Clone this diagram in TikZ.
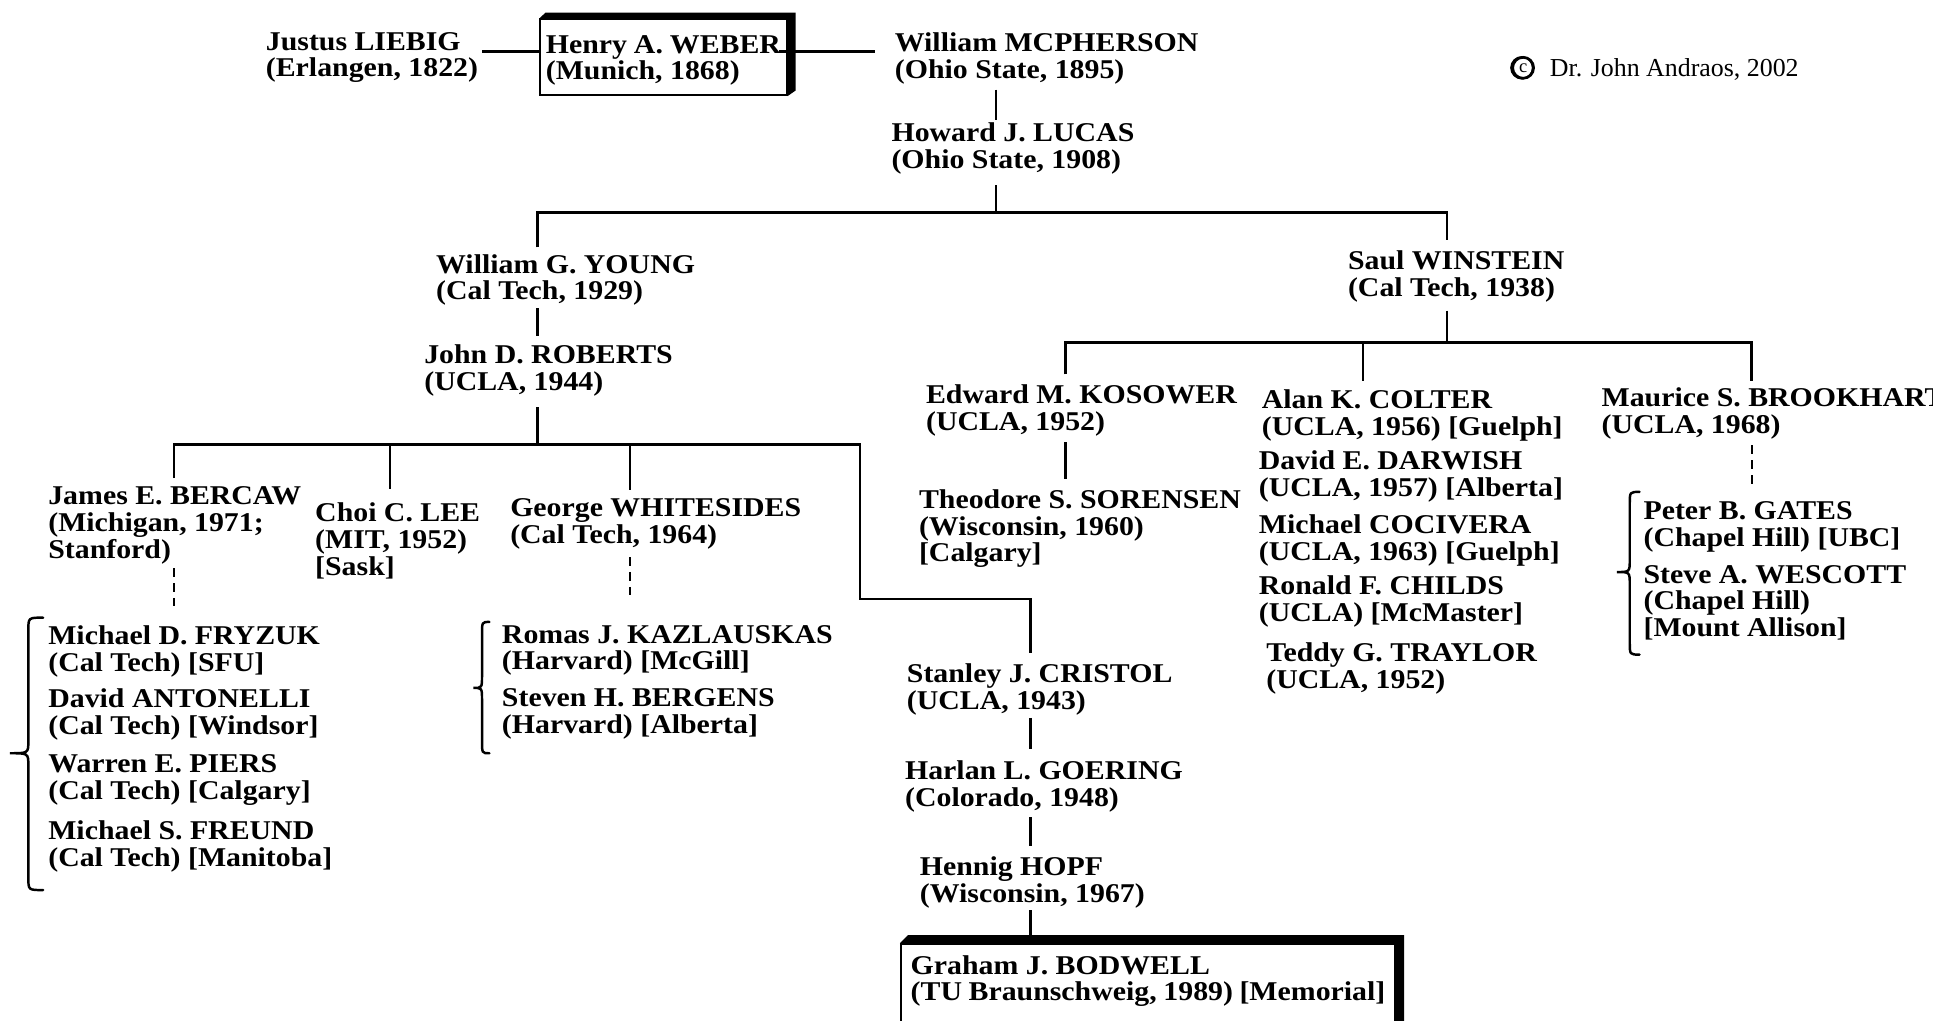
\documentclass[tikz,border=0pt]{standalone}
\usepackage{fontspec}
\setmainfont{Liberation Serif}[FakeStretch=1.1]
\newfontfamily\plainserif{Liberation Serif}
\newcommand\ppl[1]{\begin{tabular}[t]{@{}l@{}}#1\end{tabular}}
\newcommand\pplw[2]{\begin{tabular}[t]{@{}p{#1}@{}}#2\end{tabular}}
\newcommand\gbr[6]{\draw[gbrace] (#1,#4) .. controls (#2,#4) .. (#2,#4+10) -- (#2,#5-10) .. controls (#2,#5) .. (#3,#5) .. controls (#2,#5) .. (#2,#5+10) -- (#2,#6-10) .. controls (#2,#6) .. (#1,#6);}
\begin{document}
\begin{tikzpicture}[x=1pt,y=-1pt,
  person/.style={anchor=base west, inner sep=0pt, font=\bfseries\fontsize{22}{21.5}\selectfont},
  frame/.style={draw, line width=1.5pt, inner ysep=0pt, anchor=north west, font=\bfseries\fontsize{22}{21.5}\selectfont},
  link/.style={line width=2pt},
  dlink/.style={line width=2pt, dash pattern=on 7pt off 5pt},
  gbrace/.style={line width=2pt, line cap=round}]
\useasboundingbox (0,0) rectangle (1568,828);
\clip (0,0) rectangle (1568,828);
\fill[white] (0,0) rectangle (1568,828);

% ---- top row
\node[person] (liebig) at (215.5,41) {{\def\arraystretch{0.92}\ppl{Justus LIEBIG\\(Erlangen, 1822)}}};
\node[frame, inner xsep=4.5pt, text height=27.4pt, text depth=34.2pt] (weber) at (437.5,14.9)
  {{\def\arraystretch{0.92}\pplw{190.8pt}{Henry A. WEBER\\(Munich, 1868)}}};
\fill (weber.north west) -- ++(5,-4.6) -- ([shift={(6.6,-4.6)}]weber.north east) -- ([shift={(6.6,-4.6)}]weber.south east) -- (weber.south east) -- (weber.north east) -- cycle;
\node[person] (mcph) at (725.7,41.9) {\ppl{William MCPHERSON\\(Ohio State, 1895)}};
\node[person] (lucas) at (723,114.9) {\ppl{Howard J. LUCAS\\(Ohio State, 1908)}};

\node[circle, draw, line width=2.2pt, inner sep=0pt, minimum size=17pt, font=\plainserif\fontsize{15}{15}\selectfont] (copyr) at (1235.5,55) {c};
\draw[line width=1.4pt] (1234.5,55) circle (8.8);
\node[anchor=base west, inner sep=0pt, font=\plainserif\fontsize{21}{21}\selectfont] (author) at (1257,61.7) {Dr. John Andraos, 2002};

% ---- generation 3
\node[person] (young) at (353.6,221.6) {\ppl{William G. YOUNG\\(Cal Tech, 1929)}};
\node[person] (winstein) at (1093.3,219) {\ppl{Saul WINSTEIN\\(Cal Tech, 1938)}};
\node[person] (roberts) at (344,294.7) {\ppl{John D. ROBERTS\\(UCLA, 1944)}};

% ---- Roberts' students
\node[person] (bercaw) at (39,409.6) {\ppl{James E. BERCAW\\(Michigan, 1971;\\Stanford)}};
\node[person] (lee) at (255.5,423) {\ppl{Choi C. LEE\\(MIT, 1952)\\{[Sask]}}};
\node[person] (whitesides) at (413.7,419) {\ppl{George WHITESIDES\\(Cal Tech, 1964)}};
\node[person] (fryzuk) at (39,523) {\ppl{Michael D. FRYZUK\\(Cal Tech) [SFU]}};
\node[person] (antonelli) at (39,574) {\ppl{David ANTONELLI\\(Cal Tech) [Windsor]}};
\node[person] (piers) at (39,627) {\ppl{Warren E. PIERS\\(Cal Tech) [Calgary]}};
\node[person] (freund) at (39,681) {\ppl{Michael S. FREUND\\(Cal Tech) [Manitoba]}};
\node[person] (kazlauskas) at (407,521.7) {\ppl{Romas J. KAZLAUSKAS\\(Harvard) [McGill]}};
\node[person] (bergens) at (407,573) {\ppl{Steven H. BERGENS\\(Harvard) [Alberta]}};
\node[person] (cristol) at (735.5,554) {\ppl{Stanley J. CRISTOL\\(UCLA, 1943)}};
\node[person] (goering) at (734,632.7) {\ppl{Harlan L. GOERING\\(Colorado, 1948)}};
\node[person] (hopf) at (746,710) {\ppl{Hennig HOPF\\(Wisconsin, 1967)}};
\node[frame, inner xsep=8pt, text height=24.5pt, text depth=80pt] (bodwell) at (730,765)
  {{\def\arraystretch{0.89}\pplw{385pt}{Graham J. BODWELL\\(TU Braunschweig, 1989) [Memorial]}}};
\fill (bodwell.north west) -- ++(6.5,-6.5) -- ([shift={(6.5,-6.5)}]bodwell.north east) -- ([shift={(6.5,-6.5)}]bodwell.south east) -- (bodwell.south east) -- (bodwell.north east) -- cycle;

% ---- Winstein's students
\node[person] (kosower) at (751,327.2) {\ppl{Edward M. KOSOWER\\(UCLA, 1952)}};
\node[person] (sorensen) at (745.3,412.3) {\ppl{Theodore S. SORENSEN\\(Wisconsin, 1960)\\{[Calgary]}}};
\node[person] (colter) at (1023.4,331.2) {\ppl{Alan K. COLTER\\(UCLA, 1956) [Guelph]}};
\node[person] (darwish) at (1021,381.2) {\ppl{David E. DARWISH\\(UCLA, 1957) [Alberta]}};
\node[person] (cocivera) at (1021,432.6) {\ppl{Michael COCIVERA\\(UCLA, 1963) [Guelph]}};
\node[person] (childs) at (1021,482.6) {\ppl{Ronald F. CHILDS\\(UCLA) [McMaster]}};
\node[person] (traylor) at (1027,536.7) {\ppl{Teddy G. TRAYLOR\\(UCLA, 1952)}};
\node[person] (brookhart) at (1299,330) {\ppl{Maurice S. BROOKHART\\(UCLA, 1968)}};
\node[person] (gates) at (1333,421.8) {\ppl{Peter B. GATES\\(Chapel Hill) [UBC]}};
\node[person] (wescott) at (1333,473) {\ppl{Steve A. WESCOTT\\(Chapel Hill)\\{[Mount Allison]}}};

% ---- connectors
\coordinate (c0) at (0,41.9);
\draw[link, shorten <=3.4pt] (liebig.east |- c0) -- (weber.west |- c0);
\draw[link, shorten <=-6.6pt, shorten >=16pt] (weber.east |- c0) -- (mcph.west |- c0);
\coordinate (c1) at (808,172.5);
\coordinate (bL) at (436,172.5);
\coordinate (bR) at (1173.7,172.5);
\draw[link, shorten <=2.5pt, shorten >=2.5pt] (mcph.south -| c1) -- (lucas.north -| c1);
\draw[link, shorten <=7pt] (lucas.south -| c1) -- (c1);
\draw[link, shorten <=5.5pt, shorten >=9pt] (young.north -| bL) -- (bL) -- (bR) -- (winstein.north -| bR);
\draw[link, shorten >=6.6pt] (young.south -| bL) -- (roberts.north -| bL);

\coordinate (b2) at (436,360.5);
\coordinate (b2L) at (141,360.5);
\coordinate (b2R) at (697.6,360.5);
\coordinate (b2lee) at (316.4,360.5);
\coordinate (b2ws) at (511,360.5);
\coordinate (k1) at (697.6,486);
\coordinate (k2) at (836,486);
\draw[link, shorten <=7.3pt] (roberts.south -| b2) -- (b2);
\draw[link, shorten <=6.5pt, shorten >=9pt] (bercaw.north -| b2L) -- (b2L) -- (b2R) -- (k1) -- (k2) -- (cristol.north -| k2);
\draw[link, shorten >=10.5pt] (b2lee) -- (lee.north -| b2lee);
\draw[link, shorten >=6.5pt] (b2ws) -- (whitesides.north -| b2ws);
\coordinate (gF) at (141,496.5);
\draw[dlink, shorten <=1pt] (bercaw.south -| gF) -- (gF);
\coordinate (gK) at (511,486.7);
\draw[dlink, shorten <=4.6pt] (whitesides.south -| gK) -- (gK);
\draw[link, shorten >=9.6pt] (cristol.south -| k2) -- (goering.north -| k2);
\draw[link, shorten <=2pt, shorten >=8pt] (goering.south -| k2) -- (hopf.north -| k2);
\draw[link] (hopf.south -| k2) -- (bodwell.north -| k2);

\coordinate (b3) at (1173.7,278);
\coordinate (b3L) at (864.4,278);
\coordinate (b3C) at (1105.7,278);
\coordinate (b3R) at (1420.6,278);
\draw[link, shorten <=4.5pt] (winstein.south -| b3) -- (b3);
\draw[link, shorten <=8pt, shorten >=5.3pt] (kosower.north -| b3L) -- (b3L) -- (b3R) -- (brookhart.north -| b3R);
\draw[link, shorten >=7pt] (b3C) -- (colter.north -| b3C);
\draw[link, shorten <=3pt, shorten >=8pt] (kosower.south -| b3L) -- (sorensen.north -| b3L);
\coordinate (gG) at (1421,397);
\draw[dlink, shorten <=3pt] (brookhart.south -| gG) -- (gG);

% ---- braces
\gbr{35}{23}{8}{501}{611}{722}
\gbr{397}{391}{384}{504.5}{558}{611}
\gbr{1330}{1322}{1311.5}{399}{464}{531}
\end{tikzpicture}
\end{document}
